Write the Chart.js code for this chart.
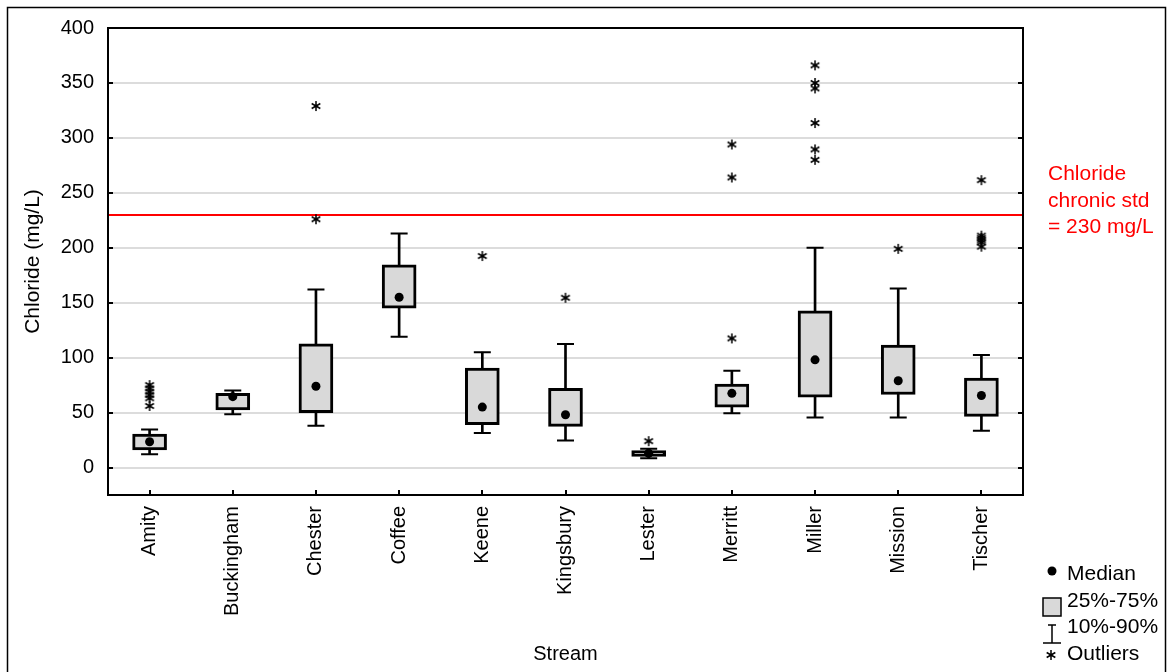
<!DOCTYPE html>
<html><head><meta charset="utf-8">
<script src="https://cdn.jsdelivr.net/npm/chart.js@4.4.1/dist/chart.umd.min.js"></script>
<style>html,body{margin:0;padding:0;background:#fff;} #wrap{width:1169px;height:672px;position:relative;}</style>
</head><body><div id="wrap"><canvas id="c" width="1169" height="672"></canvas></div>
<script>
const categories = ['Amity','Buckingham','Chester','Coffee','Keene','Kingsbury','Lester','Merritt','Miller','Mission','Tischer'];
const p10     = [12,   48.5, 38,    119,   31.5, 24.5,  8.5, 49.5, 45.5,  45.5,  33.5];
const p25     = [16,   52.5, 50,    145,   39,   37.5, 10,   55,   64,    66.5,  46.5];
const medians = [23.5, 64.5, 74,    155,   55,   48,   13,   67.5, 98,    79,    65.5];
const p75     = [30.5, 67.5, 112.5, 184.5, 90.5, 72,   15.5, 76,   142.5, 111.5, 81.5];
const p90     = [34.5, 70,   162,   213,   105,  112.5, 17,  88,   200,   163,   102.5];
const outliers = [
  [56, 63, 66, 69, 72, 75],
  [],
  [226, 329],
  [],
  [192.5],
  [154.5],
  [24],
  [117.5, 264, 294],
  [280, 289.5, 313.5, 345, 350, 366],
  [199],
  [201, 205, 207, 209, 211, 261.5]
];
const yTicks = [0, 50, 100, 150, 200, 250, 300, 350, 400];
const standardValue = 230;
const standardLabel = ['Chloride', 'chronic std', '= 230 mg/L'];
const legendLabels = ['Median', '25%-75%', '10%-90%', 'Outliers'];

const FONT = "'Liberation Sans', Arial, sans-serif";

// asterisk marker
function makeAsterisk() {
  const c = document.createElement('canvas');
  c.width = 12; c.height = 12;
  const g = c.getContext('2d');
  g.strokeStyle = '#000'; g.lineWidth = 1.5;
  const cx = 6, cy = 6, r = 5;
  g.beginPath();
  for (const a of [90, 30, 150]) {
    const rad = a * Math.PI / 180;
    g.moveTo(cx - Math.cos(rad) * r, cy - Math.sin(rad) * r);
    g.lineTo(cx + Math.cos(rad) * r, cy + Math.sin(rad) * r);
  }
  g.stroke();
  return c;
}
const asterisk = makeAsterisk();

const boxData = categories.map((c, i) => [p25[i], p75[i]]);
const whiskerData = categories.map((c, i) => [p10[i], p90[i]]);
const capData = [];
categories.forEach((c, i) => { capData.push({x: c, y: p10[i]}); capData.push({x: c, y: p90[i]}); });
const outlierData = [];
categories.forEach((c, i) => outliers[i].forEach(v => outlierData.push({x: c, y: v})));

const decorPlugin = {
  id: 'decor',
  beforeDatasetsDraw(chart) {
    const {ctx, chartArea: a, scales: {y}} = chart;
    const py = Math.round(y.getPixelForValue(standardValue));
    ctx.save();
    ctx.strokeStyle = '#ff0000'; ctx.lineWidth = 2;
    ctx.beginPath(); ctx.moveTo(a.left, py); ctx.lineTo(a.right, py); ctx.stroke();
    ctx.restore();
  },
  afterDraw(chart) {
    const {ctx, chartArea: a, scales: {x, y}} = chart;
    ctx.save();
    // outer frame
    ctx.strokeStyle = '#000'; ctx.lineWidth = 1.5;
    ctx.strokeRect(7.5, 7.5, 1158, 700);
    // plot frame
    ctx.lineWidth = 2;
    ctx.strokeRect(a.left, a.top, a.right - a.left, a.bottom - a.top);
    // inward ticks
    ctx.beginPath();
    yTicks.forEach(v => {
      const py = Math.round(y.getPixelForValue(v));
      ctx.moveTo(a.left, py); ctx.lineTo(a.left + 5, py);
      ctx.moveTo(a.right, py); ctx.lineTo(a.right - 5, py);
    });
    categories.forEach((c, i) => {
      const px = Math.round(x.getPixelForValue(i));
      ctx.moveTo(px, a.bottom); ctx.lineTo(px, a.bottom - 5);
    });
    ctx.stroke();
    // standard label
    ctx.fillStyle = '#ff0000';
    ctx.font = '21px ' + FONT;
    ctx.textAlign = 'left'; ctx.textBaseline = 'alphabetic';
    standardLabel.forEach((t, i) => ctx.fillText(t, 1048, 180 + i * 26.7));
    // legend
    ctx.fillStyle = '#000';
    legendLabels.forEach((t, i) => ctx.fillText(t, 1067, 580 + i * 26.5));
    // median dot
    ctx.beginPath(); ctx.arc(1052, 571, 4.5, 0, Math.PI * 2); ctx.fill();
    // box
    ctx.fillStyle = '#d9d9d9'; ctx.fillRect(1043, 598, 18, 18);
    ctx.lineWidth = 1.5; ctx.strokeRect(1043, 598, 18, 18);
    // whisker symbol
    ctx.beginPath();
    ctx.moveTo(1052, 625); ctx.lineTo(1052, 643);
    ctx.moveTo(1048, 625); ctx.lineTo(1056, 625);
    ctx.moveTo(1043, 643); ctx.lineTo(1061, 643);
    ctx.stroke();
    ctx.drawImage(asterisk, 1045, 649);
    ctx.restore();
  }
};

new Chart(document.getElementById('c'), {
  type: 'bar',
  data: {
    labels: categories,
    datasets: [
      { type: 'line', label: 'Median', data: medians, showLine: false,
        pointStyle: 'circle', pointRadius: 4.5, pointHoverRadius: 4.5,
        pointBackgroundColor: '#000', pointBorderWidth: 0, order: 0 },
      { type: 'line', label: 'Outliers', data: outlierData, showLine: false,
        pointStyle: asterisk, pointRadius: 5, pointHoverRadius: 5, order: 0 },
      { type: 'line', label: 'Caps', data: capData, showLine: false,
        pointStyle: 'line', pointRadius: 8.5, pointHoverRadius: 8.5,
        pointBorderColor: '#000', pointBorderWidth: 2, order: 1 },
      { type: 'bar', label: '25%-75%', data: boxData, backgroundColor: '#d9d9d9',
        borderColor: '#000', borderWidth: 3, borderSkipped: false,
        barThickness: 34, grouped: false, order: 2 },
      { type: 'bar', label: '10%-90%', data: whiskerData, backgroundColor: '#000',
        borderWidth: 0, barThickness: 2, grouped: false, order: 3 }
    ]
  },
  options: {
    responsive: false,
    animation: false,
    events: [],
    layout: { padding: { top: 28, right: 146, left: 0, bottom: 0 } },
    plugins: { legend: { display: false }, tooltip: { enabled: false } },
    scales: {
      x: {
        grid: { display: false },
        border: { display: false },
        ticks: { autoSkip: false, minRotation: 90, maxRotation: 90, padding: 3,
                 color: '#000', font: { family: FONT, size: 20 } },
        title: { display: true, text: 'Stream', color: '#000',
                 font: { family: FONT, size: 20 }, padding: { top: 0, bottom: 6 } },
        afterFit: s => { s.height = 177; }
      },
      y: {
        min: -25, max: 400,
        afterBuildTicks: s => { s.ticks = yTicks.map(v => ({ value: v })); },
        afterFit: s => { s.width = 108; },
        grid: { color: '#dcdcdc', lineWidth: 2, drawTicks: false },
        border: { display: false },
        ticks: { padding: 14, color: '#000', font: { family: FONT, size: 20 } },
        title: { display: true, text: 'Chloride (mg/L)', color: '#000',
                 font: { family: FONT, size: 21 }, padding: { top: 21, bottom: 0 } }
      }
    }
  },
  plugins: [decorPlugin]
});
</script>
</body></html>
